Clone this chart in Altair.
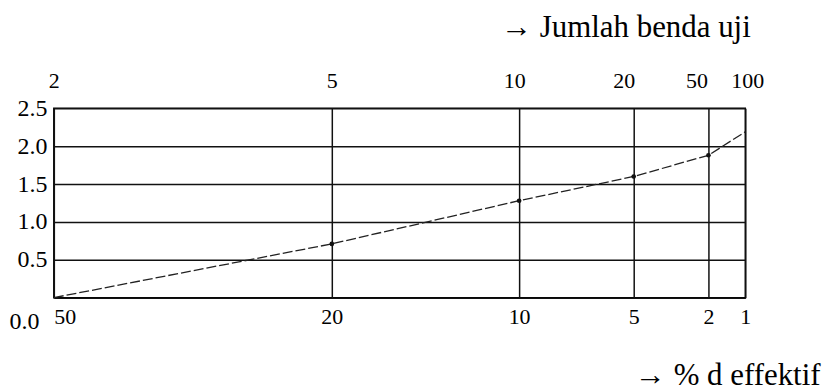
import altair as alt
import pandas as pd

# ---- data ----
n_values = [2, 5, 10, 20, 50, 100]          # Jumlah benda uji (top axis)
pct_labels = ["50", "20", "10", "5", "2", "1"]  # % d effektif (bottom axis)
curve_y = [0.0, 0.71, 1.28, 1.60, 1.88, 2.19]
marker_n = [5, 10, 20, 50]
marker_y = [0.71, 1.28, 1.60, 1.88]
y_ticks = [0.0, 0.5, 1.0, 1.5, 2.0, 2.5]
top_title = "→ Jumlah benda uji"
bottom_title = "→ % d effektif"

FONT = "Liberation Serif, Times New Roman, serif"

curve_df = pd.DataFrame({"n": n_values, "y": curve_y})
marker_df = pd.DataFrame({"n": marker_n, "y": marker_y})

# piecewise x scale (non-uniform paper scale)
x_scale = alt.Scale(domain=n_values, range=[0, 279, 467, 582, 657, 694], zero=False, nice=False)
y_scale = alt.Scale(domain=[0, 2.5], zero=False, nice=False)

pct_expr = " : ".join(
    f"datum.value == {n} ? '{p}'" for n, p in zip(n_values, pct_labels)
) + " : ''"

bottom_axis = alt.Axis(
    orient="bottom", values=n_values, labelExpr=pct_expr,
    grid=True, gridColor="#111111", gridWidth=1.5,
    domain=False, ticks=False, labelFlush=False, labelOverlap=False, labelBound=False,
    labelFont=FONT, labelFontSize=22, labelColor="black",
    labelBaseline="alphabetic", labelPadding=26,
    labelAlign={"condition": {"test": "datum.value == 2", "value": "left"}, "value": "center"},
    title=bottom_title, titleFont=FONT, titleFontSize=31, titleFontWeight="normal",
    titleColor="black", titleX=769, titleY=87, titleAlign="right",
    titleBaseline="alphabetic", titleAngle=0,
)

top_axis = alt.Axis(
    orient="top", values=n_values, format="d",
    grid=False, domain=False, ticks=False, labelFlush=False, labelOverlap=False, labelBound=False,
    labelFont=FONT, labelFontSize=22, labelColor="black",
    labelBaseline="alphabetic", labelPadding=21,
    labelOffset={"condition": [
        {"test": "datum.value == 10", "value": -5},
        {"test": "datum.value == 20", "value": -10},
        {"test": "datum.value == 50", "value": -12},
        {"test": "datum.value == 100", "value": 2},
    ], "value": 0},
    title=top_title, titleFont=FONT, titleFontSize=31, titleFontWeight="normal",
    titleColor="black", titleX=699, titleY=-72, titleAlign="right",
    titleBaseline="alphabetic", titleAngle=0,
)

y_axis = alt.Axis(
    values=y_ticks, format=".1f",
    grid=True, gridColor="#111111", gridWidth=1.5,
    domain=False, ticks=False, labelOverlap=False, labelFlush=False, labelBound=False,
    labelFont=FONT, labelFontSize=24, labelColor="black",
    labelBaseline="middle", labelAlign="right",
    labelPadding={"condition": {"test": "datum.value == 0", "value": 15}, "value": 7},
    labelOffset={"condition": {"test": "datum.value == 0", "value": 24}, "value": 0},
    title=None,
)

curve = alt.Chart(curve_df).mark_line(
    color="#222222", strokeWidth=1.3, strokeDash=[10, 3]
).encode(
    x=alt.X("n:Q", scale=x_scale, axis=bottom_axis),
    y=alt.Y("y:Q", scale=y_scale, axis=y_axis),
)

markers = alt.Chart(marker_df).mark_circle(color="#111111", size=22, opacity=1).encode(
    x=alt.X("n:Q", scale=x_scale, axis=top_axis),
    y=alt.Y("y:Q", scale=y_scale, axis=y_axis),
)

chart = (
    alt.layer(curve, markers)
    .resolve_axis(x="independent")
    .properties(
        width=694, height=190,
        autosize=alt.AutoSizeParams(type="none"),
        padding={"left": 46, "top": 100, "right": 80, "bottom": 93},
        background="white",
    )
    .configure_view(stroke="black", strokeWidth=1.5)
)

chart.save("out.html", embed_options={"renderer": "svg", "actions": False})
